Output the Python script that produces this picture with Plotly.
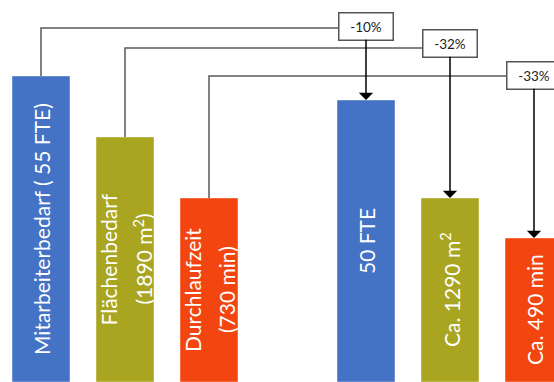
import plotly.graph_objects as go

# Data (heights in chart units; baseline at the bottom edge)
categories = ["Mitarbeiterbedarf", "Flächenbedarf", "Durchlaufzeit",
              "Mitarbeiter neu", "Fläche neu", "Durchlaufzeit neu"]
heights = [306, 245, 184, 282, 184, 144]
bar_labels = [
    ["Mitarbeiterbedarf ( 55 FTE)"],
    ["Flächenbedarf", "(1890 m<sup>2</sup>)"],
    ["Durchlaufzeit", "(730 min)"],
    ["50 FTE"],
    ["Ca. 1290 m<sup>2</sup>"],
    ["Ca. 490 min"],
]
colors = ["#4472C4", "#A9A521", "#F2450F", "#4472C4", "#A9A521", "#F2450F"]
changes = ["-10%", "-32%", "-33%"]
sources = [0, 1, 2]
targets = [3, 4, 5]
connector_levels = [354, 334, 306]
box_levels = [356, 339, 307]

# Layout parameters
GROUP_GAP = 0.869
positions = [i + (GROUP_GAP if i >= 3 else 0) for i in range(len(categories))]
BAR_W = 0.69
LINE_SP = 17  # px offset for two-line labels
FONT = "Lato, 'Open Sans', sans-serif"

fig = go.Figure()
fig.add_trace(go.Bar(
    x=positions, y=heights, width=BAR_W,
    marker=dict(color=colors, line=dict(width=0.8, color="rgba(255,255,255,0.5)")),
    hoverinfo="skip",
))

annotations = []
# bar labels
for p, h, lines in zip(positions, heights, bar_labels):
    n = len(lines)
    for j, t in enumerate(lines):
        shift = (j - (n - 1) / 2) * 2 * LINE_SP
        annotations.append(dict(
            x=p, y=h / 2, text=t, showarrow=False, textangle=-90,
            xshift=shift, font=dict(family=FONT, size=21, color="#FFFFFF"),
            xanchor="center", yanchor="middle",
        ))

shapes = []
for s, t, lvl, by, lab in zip(sources, targets, connector_levels, box_levels, changes):
    xs, xt = positions[s], positions[t]
    # connector from source bar top up and across
    shapes.append(dict(
        type="path", xref="x", yref="y",
        path=f"M {xs},{heights[s]} V {lvl} H {xt}",
        line=dict(color="#5A5A5A", width=1.5),
    ))
    # change box with arrow down to the target bar top
    annotations.append(dict(
        x=xt, y=heights[t], ax=xt, ay=by,
        xref="x", yref="y", axref="x", ayref="y",
        text=lab, showarrow=True, arrowhead=1, arrowsize=1.6, arrowwidth=1.5,
        arrowcolor="#000000", standoff=0, startstandoff=0,
        font=dict(family=FONT, size=13.5, color="#222222"),
        bgcolor="#FFFFFF", bordercolor="#555555", borderwidth=1.5, borderpad=1,
        width=51, height=24,
    ))

fig.update_layout(
    width=554, height=382,
    margin=dict(l=0, r=0, t=0, b=0),
    paper_bgcolor="#FFFFFF", plot_bgcolor="#FFFFFF",
    showlegend=False,
    xaxis=dict(range=[-41 / 84, 513 / 84], visible=False, fixedrange=True),
    yaxis=dict(range=[0, 382], visible=False, fixedrange=True),
    shapes=shapes, annotations=annotations,
)

fig.write_html("out.html")
